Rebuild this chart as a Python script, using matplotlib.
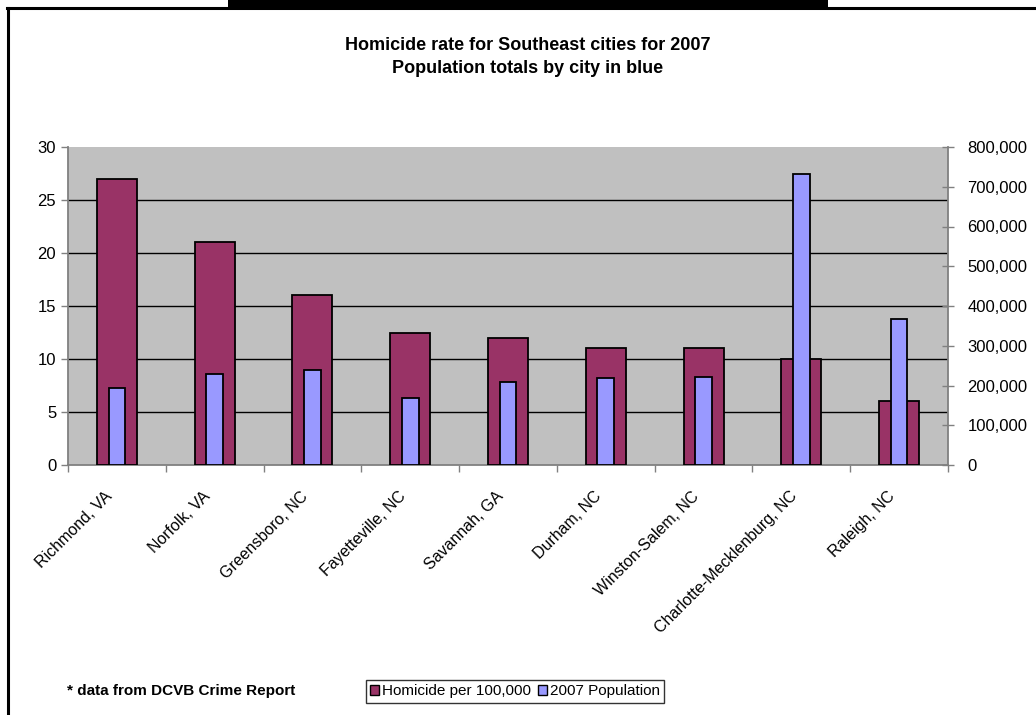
import matplotlib
matplotlib.use("Agg")
import matplotlib.pyplot as plt
from matplotlib.patches import Rectangle, Patch
from matplotlib.lines import Line2D
from matplotlib.ticker import FuncFormatter
from matplotlib.transforms import ScaledTranslation
import numpy as np

plt.rcParams['font.family'] = ['Liberation Sans', 'DejaVu Sans']

cities = ["Richmond, VA", "Norfolk, VA", "Greensboro, NC", "Fayetteville, NC",
          "Savannah, GA", "Durham, NC", "Winston-Salem, NC",
          "Charlotte-Mecklenburg, NC", "Raleigh, NC"]
homicide_rate = [27, 21, 16, 12.5, 12, 11, 11, 10, 6]
population = [193000, 229000, 239000, 168000, 209000, 219000, 221000, 732000, 367000]

title_text = "Homicide rate for Southeast cities for 2007\nPopulation totals by city in blue"
note_text = "* data from DCVB Crime Report"
legend_labels = ["Homicide per 100,000", "2007 Population"]

W, H = 1036, 715
fig = plt.figure(figsize=(W / 100, H / 100), dpi=100)
fig.patch.set_facecolor("white")

# frame lines and cut-off black banner
fig.add_artist(Rectangle((228 / W, 1 - 8 / H), 600 / W, 8 / H, transform=fig.transFigure,
                         facecolor="black", edgecolor="none"))
fig.add_artist(Line2D([7 / W, 1], [1 - 7.5 / H, 1 - 7.5 / H], transform=fig.transFigure,
                      color="black", lw=2.2))
fig.add_artist(Line2D([8 / W, 8 / W], [0, 1 - 7.5 / H], transform=fig.transFigure,
                      color="black", lw=2.2))

left, right, top, bottom = 68, 948, 147, 465
ax = fig.add_axes([left / W, 1 - bottom / H, (right - left) / W, (bottom - top) / H])
ax.set_facecolor("#C0C0C0")
ax2 = ax.twinx()

x = np.arange(len(cities))
ax.bar(x, homicide_rate, width=0.41, color="#993366", edgecolor="black", linewidth=1.3, zorder=3)
ax2.bar(x, population, width=0.17, color="#9999FF", edgecolor="black", linewidth=1.3, zorder=3)

ax.set_xlim(-0.5, len(cities) - 0.5)
ax.set_ylim(0, 30)
ax2.set_ylim(0, 800000)
ax.set_yticks(np.arange(0, 31, 5))
ax2.set_yticks(np.arange(0, 800001, 100000))
ax2.yaxis.set_major_formatter(FuncFormatter(lambda v, p: f"{int(v):,}"))

for yv in np.arange(5, 30, 5):
    ax.axhline(yv, color="black", lw=1.0, zorder=1)

for a in (ax, ax2):
    for s in a.spines.values():
        s.set_visible(False)
ax.spines['left'].set_visible(True)
ax.spines['left'].set_color("#808080")
ax.spines['left'].set_linewidth(1.3)
ax.spines['bottom'].set_visible(True)
ax.spines['bottom'].set_color("#808080")
ax.spines['bottom'].set_linewidth(1.3)
ax2.spines['right'].set_visible(True)
ax2.spines['right'].set_color("#808080")
ax2.spines['right'].set_linewidth(1.3)

ax.tick_params(axis='y', direction='out', length=5, width=1, color="#808080",
               labelsize=12, pad=3.5)
ax2.tick_params(axis='y', direction='inout', length=8, width=1, color="#808080",
                labelsize=12, pad=10)

ax.set_xticks(x)
ax.set_xticklabels(cities, rotation=45, ha='right', rotation_mode='anchor', fontsize=11.5)
ax.tick_params(axis='x', which='major', length=0, pad=17)
shift = ScaledTranslation(-12 / 100, 0, fig.dpi_scale_trans)
for lab in ax.get_xticklabels():
    lab.set_transform(lab.get_transform() + shift)
ax.set_xticks(np.arange(-0.5, len(cities) + 0.5, 1), minor=True)
ax.tick_params(axis='x', which='minor', direction='out', length=5, width=1, color="#808080")

fig.text(528 / W, 1 - 57 / H, title_text, ha='center', va='center', fontsize=13,
         fontweight='bold', linespacing=1.45)

fig.text(67 / W, 1 - 691 / H, note_text, ha='left', va='center', fontsize=11,
         fontweight='bold')

handles = [Patch(facecolor="#993366", edgecolor="black"),
           Patch(facecolor="#9999FF", edgecolor="black")]
leg = fig.legend(handles, legend_labels, loc='center', bbox_to_anchor=(515 / W, 1 - 691.5 / H),
                 ncol=2, fontsize=11, frameon=True, fancybox=False, handlelength=0.6,
                 handleheight=0.6, handletextpad=0.2, columnspacing=0.4, borderpad=0.3,
                 borderaxespad=0)
leg.get_frame().set_edgecolor("black")
leg.get_frame().set_linewidth(1.0)

fig.savefig("out.png", dpi=100)
